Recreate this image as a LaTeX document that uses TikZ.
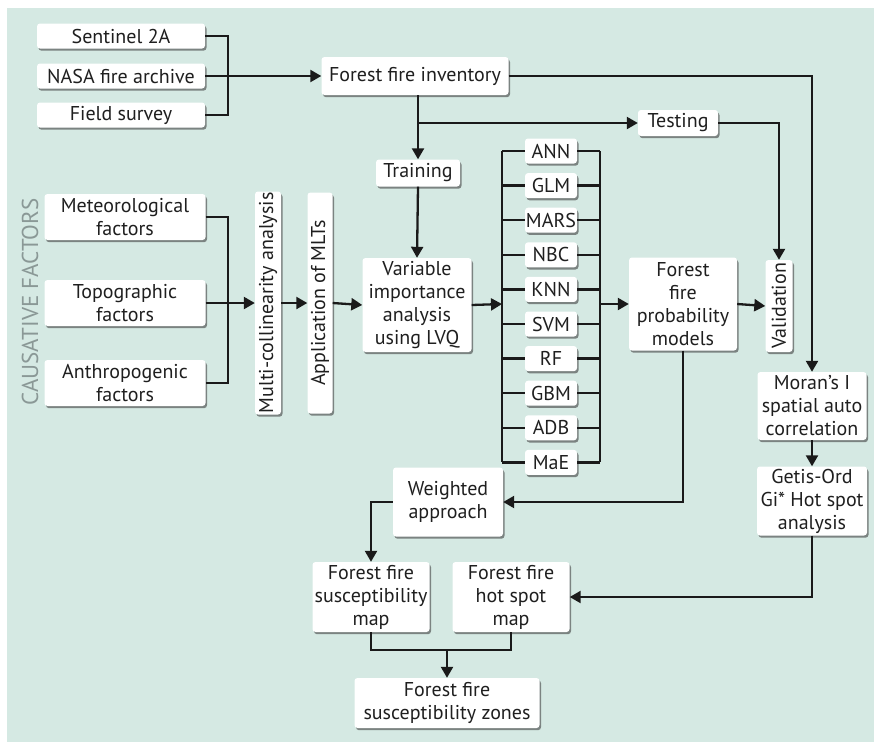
\documentclass[tikz,border=0pt]{standalone}
\usepackage{fontspec}
\setmainfont{PT Sans}
\usetikzlibrary{arrows.meta}
\usetikzlibrary{shadows}
\definecolor{bggreen}{HTML}{D5E9E3}
\definecolor{cfgray}{HTML}{8A9896}
\definecolor{lncol}{HTML}{1A1A1A}

\begin{document}
\begin{tikzpicture}[x=1pt, y=-1pt, font=\fontsize{20}{23}\selectfont,
  >={Triangle[length=11pt,width=12pt]}]

\tikzstyle{fbox}=[align=center, fill=white, rounded corners=3pt, inner sep=0pt,
text=black!88, drop shadow={shadow xshift=1.5pt, shadow yshift=-2.2pt,
fill=black!75, opacity=0.6}]
\tikzstyle{srcbox}=[fbox, minimum width=168pt, minimum height=25pt]
\tikzstyle{cfbox}=[fbox, minimum width=161pt, minimum height=46pt]
\tikzstyle{mbox}=[fbox, minimum width=52pt, minimum height=25pt]
\tikzstyle{link}=[draw=lncol, line width=2.3pt]
\tikzstyle{arr}=[link, ->]

\useasboundingbox (0,0) rectangle (874,742);
\fill[bggreen] (7,8) rectangle (874,742);

% data sources
\node[srcbox] (sen) at (121,36) {Sentinel 2A};
\node[srcbox] (nasa) at (121,76) {NASA fire archive};
\node[srcbox] (fld) at (121,115) {Field survey};
\coordinate (jsrc) at (228,76);

\node[fbox, minimum width=187pt, minimum height=38pt] (inv) at (415,76) {Forest fire inventory};
\node[fbox, minimum width=80pt, minimum height=26pt] (test) at (678,123) {Testing};
\node[fbox, minimum width=84pt, minimum height=27pt] (train) at (418,173) {Training};
\coordinate (jtest) at (418,123);

% causative factors
\node[rotate=90, text=cfgray, font=\fontsize{23}{26}\selectfont] (cf) at (30,302) {CAUSATIVE FACTORS};
\node[cfbox] (met) at (125,217) {Meteorological\\factors};
\node[cfbox] (topo) at (125,303) {Topographic\\factors};
\node[cfbox] (anth) at (125,383) {Anthropogenic\\factors};
\coordinate (jcf) at (228,303);

\node[fbox, minimum width=26pt, minimum height=223pt] (mca) at (268,303)
{\rotatebox{90}{Multi-collinearity analysis}};
\node[fbox, minimum width=25pt, minimum height=221pt] (mlt) at (320,303)
{\rotatebox{90}{Application of MLTs}};
\node[fbox, minimum width=109pt, minimum height=94pt] (vimp) at (417,305)
{Variable\\importance\\analysis\\using LVQ};

% models
\foreach \mname [count=\i] in {ANN,GLM,MARS,NBC,KNN,SVM,RF,GBM,ADB,MaE}
  \node[mbox] (m\i) at (551,{151+34.6*(\i-1)}) {\mname};
\coordinate (lin) at (502,304);
\coordinate (rout) at (600,304);

\node[fbox, minimum width=108pt, minimum height=93pt] (prob) at (683,304)
{Forest\\fire\\probability\\models};
\node[fbox, minimum width=27pt, minimum height=92pt] (valid) at (779,306)
{\rotatebox{90}{Validation}};
\node[fbox, minimum width=109pt, minimum height=68pt] (moran) at (812,406)
{Moran’s I\\spatial auto\\correlation};
\node[fbox, minimum width=110pt, minimum height=69pt] (getis) at (812,501)
{Getis-Ord\\Gi* Hot spot\\analysis};

% outputs
\node[fbox, minimum width=110pt, minimum height=69pt] (wgt) at (448,502)
{Weighted\\approach};
\node[fbox, minimum width=117pt, minimum height=70pt] (fsm) at (371,597)
{Forest fire\\susceptibility\\map};
\node[fbox, minimum width=117pt, minimum height=70pt] (hsm) at (511,597)
{Forest fire\\hot spot\\map};
\node[fbox, minimum width=185pt, minimum height=50pt] (zones) at (447,703)
{Forest fire\\susceptibility zones};
\coordinate (jz) at (447,650);

% connectors
\draw[link] (sen.east) -| (jsrc) |- (fld.east);
\draw[link] (nasa.east) -- (jsrc);
\draw[arr] (jsrc) -- (inv.west);
\draw[arr] (inv.south -| train.north) -- (train.north);
\draw[arr] (jtest) -- (test.west);
\draw[arr] (test.east) -| (valid.north);
\draw[arr] (inv.east) -| (moran.north);
\draw[arr] (train.south) -- (vimp.north);

\draw[link] (met.east) -| (jcf) |- (anth.east);
\draw[link] (topo.east) -- (jcf);
\draw[arr] (jcf) -- (mca.west);
\draw[arr] (mca.east) -- (mlt.west);
\draw[arr] (mlt.east) -- (vimp.west);

\draw[link] (m1.west -| lin) -- (m10.west -| lin);
\draw[link] (m1.east -| rout) -- (m10.east -| rout);
\foreach \i in {1,...,10} {
  \draw[link] (m\i.west) -- (m\i.west -| lin);
  \draw[link] (m\i.east) -- (m\i.east -| rout);
}
\draw[arr] (vimp.east) -- (lin);
\draw[arr] (rout) -- (prob.west);
\draw[arr] (prob.east) -- (valid.west);
\draw[arr] (moran.south) -- (getis.north);

\draw[arr] (prob.south) |- (wgt.east);
\draw[arr] (wgt.west) -| (fsm.north);
\draw[arr] (getis.south) |- (hsm.east);
\draw[link] (fsm.south) |- (jz);
\draw[link] (hsm.south) |- (jz);
\draw[arr] (jz) -- (zones.north);
\end{tikzpicture}
\end{document}
